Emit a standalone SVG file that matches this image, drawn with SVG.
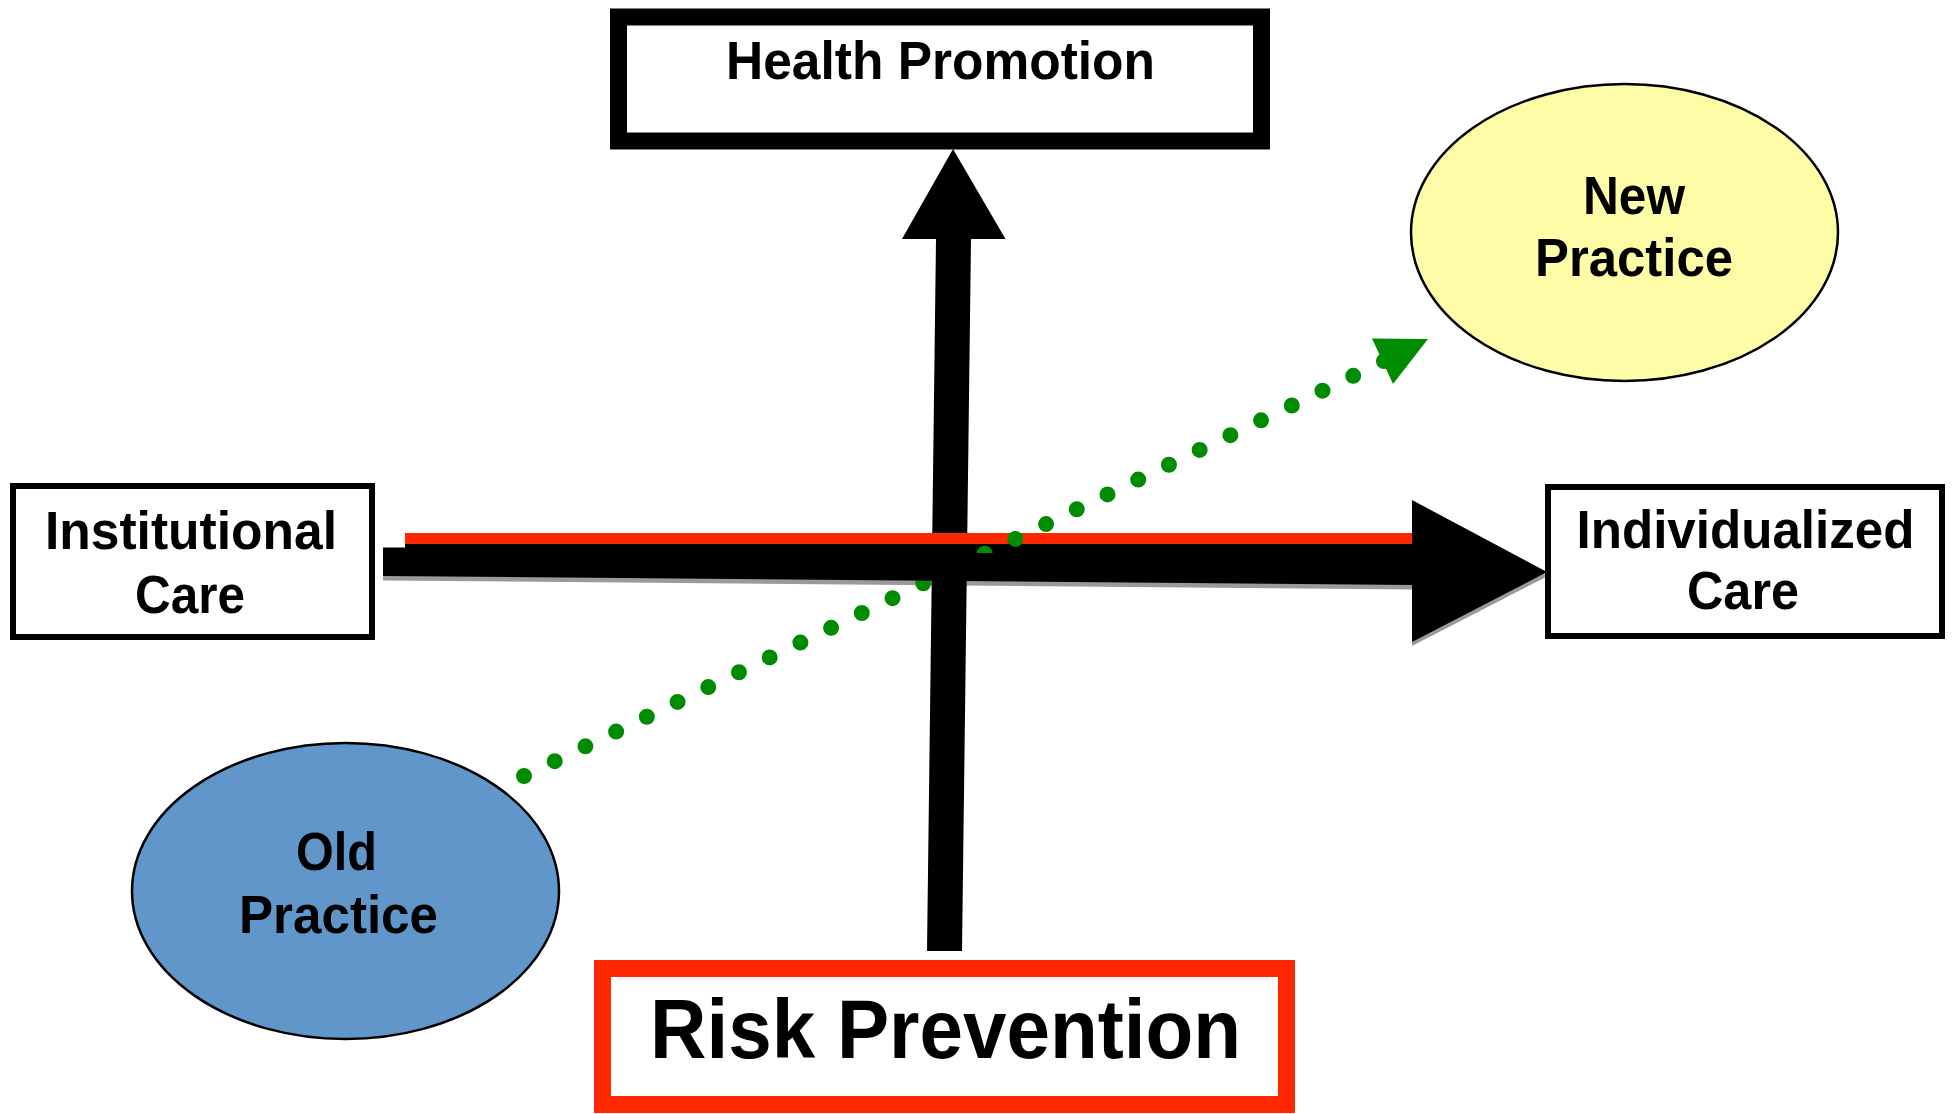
<svg xmlns="http://www.w3.org/2000/svg" width="1956" height="1114" viewBox="0 0 1956 1114">
  <style>
    .lbl { font-family: "Liberation Sans", Arial, sans-serif; font-weight: bold; fill: #000; text-anchor: middle; }
    .box { fill: #fff; stroke: #000; }
    .thin { stroke-width: 6; }
    .thick { stroke-width: 17; }
    .oval { stroke: #000; stroke-width: 2.5; }
    .shadow { fill: #9a9a9a; }
    .ink { fill: #000; }
    .green { fill: #008c00; }
  </style>
  <rect width="1956" height="1114" fill="#fff"/>

  <!-- connectors: axes and the dotted shift arrow -->
  <g id="connectors">
    <!-- drop shadow under the horizontal axis -->
    <polygon class="shadow" points="383,551 1413,548 1413,589.5 383,580.5"/>
    <polygon class="shadow" points="1412,505 1548,576 1412,646"/>

    <!-- vertical axis: Risk Prevention up to Health Promotion -->
    <polygon class="ink" points="936,239 971,239 962,951 927,951"/>
    <polygon class="ink" points="953,149 1005.5,239 902,239"/>

    <!-- horizontal axis, upper band -->
    <polygon class="ink" points="383,547.5 405,547.5 405,544 1413,543 1413,554 383,554"/>
    <!-- red marker line on top of the axis -->
    <rect x="405" y="533" width="1008" height="11" fill="#ff2600"/>

    <!-- dotted green arrow from Old Practice to New Practice -->
    <path d="M524,776 L1384,361" fill="none" stroke="#008c00" stroke-width="16" stroke-linecap="round" stroke-dasharray="0 34.1"/>
    <polygon class="green" points="1372,338.5 1428,339 1393,384"/>

    <!-- horizontal axis, lower band and head -->
    <polygon class="ink" points="383,553 1413,553 1413,585 383,576"/>
    <polygon class="ink" points="1412,500 1547,572 1412,642"/>
  </g>

  <g id="health-promotion">
    <rect class="box thick" x="618.5" y="17" width="643" height="124"/>
    <text class="lbl" x="940.5" y="79" font-size="54" textLength="429" lengthAdjust="spacingAndGlyphs">Health Promotion</text>
  </g>

  <g id="risk-prevention">
    <rect x="602.5" y="968.5" width="684" height="136" fill="#fff" stroke="#ff2600" stroke-width="17"/>
    <text class="lbl" x="945.5" y="1058" font-size="83" textLength="591" lengthAdjust="spacingAndGlyphs">Risk Prevention</text>
  </g>

  <g id="institutional-care">
    <rect class="box thin" x="13" y="486" width="359" height="151"/>
    <text class="lbl" x="191" y="549" font-size="54" textLength="292" lengthAdjust="spacingAndGlyphs">Institutional</text>
    <text class="lbl" x="190" y="613" font-size="54" textLength="110" lengthAdjust="spacingAndGlyphs">Care</text>
  </g>

  <g id="individualized-care">
    <rect class="box thin" x="1548" y="487" width="394" height="149"/>
    <text class="lbl" x="1745.5" y="548" font-size="54" textLength="338" lengthAdjust="spacingAndGlyphs">Individualized</text>
    <text class="lbl" x="1743" y="609" font-size="54" textLength="112" lengthAdjust="spacingAndGlyphs">Care</text>
  </g>

  <g id="new-practice">
    <ellipse class="oval" cx="1624.5" cy="232.5" rx="213.5" ry="148.5" fill="#fffca8"/>
    <text class="lbl" x="1634" y="214" font-size="54" textLength="102" lengthAdjust="spacingAndGlyphs">New</text>
    <text class="lbl" x="1634" y="276" font-size="54" textLength="198" lengthAdjust="spacingAndGlyphs">Practice</text>
  </g>

  <g id="old-practice">
    <ellipse class="oval" cx="345.5" cy="891" rx="213.5" ry="148" fill="#6096c9"/>
    <text class="lbl" x="336.5" y="870" font-size="54" textLength="81" lengthAdjust="spacingAndGlyphs">Old</text>
    <text class="lbl" x="338.5" y="933" font-size="54" textLength="199" lengthAdjust="spacingAndGlyphs">Practice</text>
  </g>
</svg>
